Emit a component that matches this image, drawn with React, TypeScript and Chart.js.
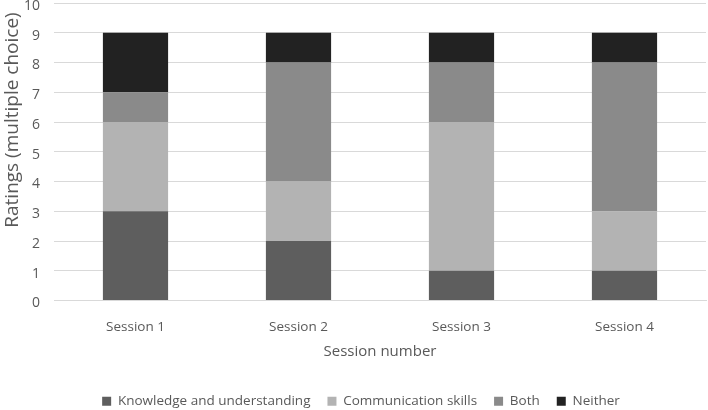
import React, { useEffect, useRef } from "react";
import { Chart, registerables } from "chart.js";

Chart.register(...registerables);

const categories = ["Session 1", "Session 2", "Session 3", "Session 4"];
const knowledge = [3, 2, 1, 1];
const communication = [3, 2, 5, 2];
const both = [1, 4, 2, 5];
const neither = [2, 1, 1, 1];
const seriesNames = ["Knowledge and understanding", "Communication skills", "Both", "Neither"];
const seriesColors = ["#5e5e5e", "#b3b3b3", "#8a8a8a", "#222222"];
const yTitle = "Ratings (multiple choice)";
const xTitle = "Session number";

const FONT = "'Open Sans', 'Noto Sans', sans-serif";
const TEXT = "#595959";

const yTitlePlugin = {
  id: "yTitlePlugin",
  afterLayout(chart: any) {
    if (chart.legend) {
      chart.legend.left += 8;
      chart.legend.right += 8;
    }
  },
  afterDraw(chart: any) {
    const c = chart.ctx;
    c.save();
    c.translate(13, 120);
    c.rotate(-Math.PI / 2);
    c.fillStyle = TEXT;
    c.font = `19px ${FONT}`;
    c.textAlign = "center";
    c.textBaseline = "middle";
    c.fillText(yTitle, 0, 0);
    c.restore();
  },
};

export default function App() {
  const ref = useRef<HTMLCanvasElement | null>(null);
  useEffect(() => {
    document.body.style.margin = "0";
    const ctx = ref.current!;
    const values = [knowledge, communication, both, neither];
    const chart = new Chart(ctx, {
      type: "bar",
      plugins: [yTitlePlugin],
      data: {
        labels: categories,
        datasets: values.map((v, i) => ({
          label: seriesNames[i],
          data: v,
          backgroundColor: seriesColors[i],
          borderWidth: 0,
          categoryPercentage: 1,
          barPercentage: 0.4,
        })),
      },
      options: {
        animation: false,
        responsive: false,
        maintainAspectRatio: false,
        layout: { padding: { top: 3, right: 2, left: 0, bottom: -8 } },
        plugins: {
          tooltip: { enabled: false },
          legend: {
            position: "bottom",
            labels: {
              boxWidth: 9,
              boxHeight: 9,
              padding: 17,
              color: TEXT,
              font: { family: FONT, size: 13.5 },
            },
          },
        },
        scales: {
          x: {
            stacked: true,
            grid: { display: false, drawTicks: false },
            border: { color: "#d9d9d9", width: 1 },
            ticks: { color: TEXT, font: { family: FONT, size: 13.5 }, padding: 19 },
            title: {
              display: true,
              text: xTitle,
              color: TEXT,
              font: { family: FONT, size: 15 },
              padding: { top: 4, bottom: 17 },
            },
            afterFit: (s: any) => {
              s.height = 77;
            },
          },
          y: {
            stacked: true,
            min: 0,
            max: 10,
            ticks: {
              stepSize: 1,
              color: TEXT,
              font: { family: FONT, size: 14, lineHeight: 0.4 },
              padding: 14,
              callback: (v: any) => ["", String(v)],
            },
            grid: { color: "#d9d9d9", lineWidth: 1, drawTicks: false },
            border: { display: false },
            title: { display: false },
            afterFit: (s: any) => {
              s.width = 54;
              s.paddingTop = 0;
              s.paddingBottom = 0;
            },
          },
        },
      },
    });
    return () => chart.destroy();
  }, []);
  return (
    <div style={{ position: "absolute", left: 0, top: 0, width: 708, height: 410 }}>
      <canvas ref={ref} width={708} height={410} style={{ width: 708, height: 410 }} />
    </div>
  );
}
